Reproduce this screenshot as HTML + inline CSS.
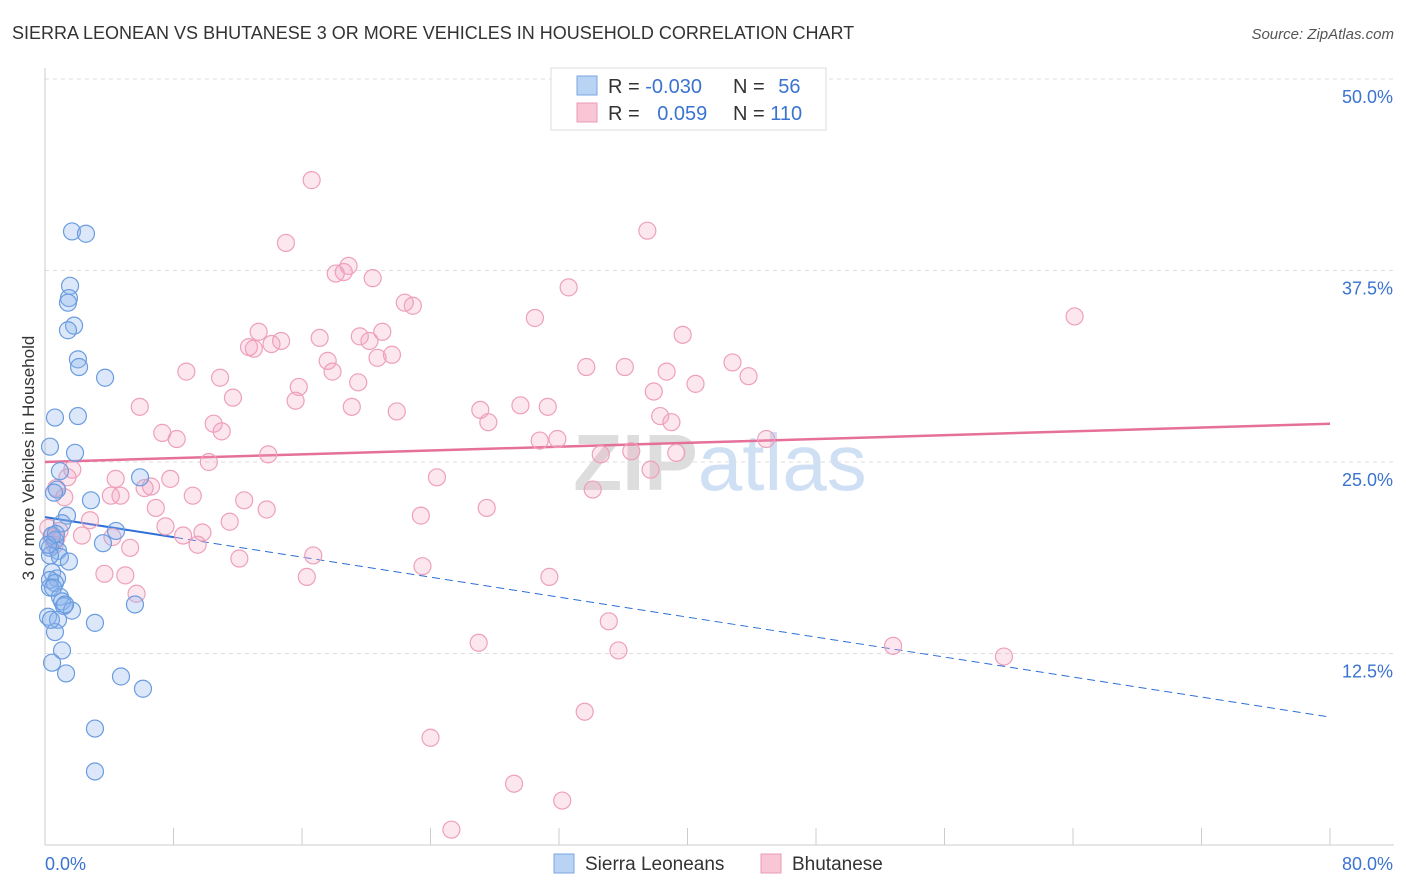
<!DOCTYPE html>
<html><head><meta charset="utf-8"><style>
body{margin:0;background:#fff;font-family:"Liberation Sans",sans-serif;}
svg{display:block}
</style></head><body>
<svg id="chart" width="1406" height="892">
<text x="12" y="39" font-size="18" fill="#333">SIERRA LEONEAN VS BHUTANESE 3 OR MORE VEHICLES IN HOUSEHOLD CORRELATION CHART</text>
<text x="1394" y="39" font-size="15" fill="#555" font-style="italic" text-anchor="end">Source: ZipAtlas.com</text>
<text x="34" y="458" font-size="17" fill="#333" text-anchor="middle" transform="rotate(-90 34 458)">3 or more Vehicles in Household</text>
<text x="720" y="490" font-size="80" fill="#ddd" text-anchor="middle" font-weight="bold">ZIP<tspan fill="#cfe0f5" font-weight="normal">atlas</tspan></text>
<g id="grid"></g><g id="axes"></g><g id="trend"></g><g id="pts"></g>
<g>
<rect x="551" y="68" width="275" height="62" fill="#fff" stroke="#ddd"/>
<rect x="577" y="76" width="20" height="19" fill="#b9d3f5" stroke="#7aa6e0"/>
<rect x="577" y="103" width="20" height="19" fill="#f9c6d6" stroke="#eb9ab5"/>
<text x="608" y="93" font-size="20" fill="#333">R = <tspan fill="#3a73d0">-0.030</tspan></text>
<text x="733" y="93" font-size="20" fill="#333">N = <tspan fill="#3a73d0" dx="8">56</tspan></text>
<text x="608" y="120" font-size="20" fill="#333">R = <tspan fill="#3a73d0" dx="12">0.059</tspan></text>
<text x="733" y="120" font-size="20" fill="#333">N = <tspan fill="#3a73d0">110</tspan></text>
</g>
<g>
<rect x="554" y="854" width="20" height="19" fill="#b9d3f5" stroke="#7aa6e0"/>
<text x="585" y="870" font-size="19" fill="#333">Sierra Leoneans</text>
<rect x="761" y="854" width="20" height="19" fill="#f9c6d6" stroke="#eb9ab5"/>
<text x="792" y="870" font-size="19" fill="#333">Bhutanese</text>
</g>
</svg>
<script>
const yTicks=[12.5,25,37.5,50];
const yTickLabels=["12.5%","25.0%","37.5%","50.0%"];
const xTickLabels=["0.0%","80.0%"];
const blueX=[1.68,2.55,1.56,1.49,1.43,1.81,1.43,2.05,2.12,3.74,0.62,2.05,0.31,1.87,0.93,0.75,0.56,2.86,1.37,1.06,4.42,0.44,0.62,3.61,0.31,0.81,0.93,1.49,0.44,0.75,0.31,0.62,0.31,0.93,1.06,1.18,1.68,5.60,0.19,0.81,3.11,0.62,1.06,0.44,1.31,4.73,6.10,3.11,3.11,5.92,0.31,0.19,0.50,0.68,1.25,0.37];
const blueY=[40.05,39.9,36.5,35.7,35.4,33.9,33.6,31.7,31.2,30.5,27.9,28.0,26.0,25.6,24.4,23.2,23.0,22.5,21.5,21.0,20.5,20.2,19.9,19.7,19.4,19.2,18.8,18.5,17.8,17.4,17.3,17.1,16.8,16.2,15.9,15.6,15.3,15.7,14.9,14.7,14.5,13.9,12.7,11.9,11.2,11.0,10.2,7.6,4.8,24.0,18.9,19.6,16.8,20.3,15.7,14.7];
const pinkX=[16.6,15.0,37.5,18.9,18.6,18.1,20.4,32.6,22.4,22.9,64.1,30.5,13.3,21.0,17.1,39.7,19.6,20.2,14.7,14.1,12.7,13.0,21.6,20.7,17.6,42.8,33.7,36.1,17.9,8.8,10.9,43.8,38.7,19.5,40.5,15.8,37.9,11.7,15.6,5.9,19.1,21.9,27.1,29.6,31.3,38.3,10.5,27.6,39.0,7.3,11.0,8.2,30.8,31.9,44.9,13.9,34.6,36.5,39.3,10.2,1.7,24.4,37.7,7.8,1.4,4.4,6.6,6.2,0.7,1.2,9.2,4.1,4.7,12.4,34.1,13.8,6.9,27.5,23.4,2.8,11.5,7.5,2.3,9.8,8.6,4.2,0.4,0.7,9.5,5.3,12.1,16.7,3.7,5.0,16.3,23.5,31.4,5.7,35.1,27.0,35.7,52.8,59.7,33.6,24.0,29.2,32.2,25.3,0.9,0.6,0.2];
const pinkY=[43.4,39.3,40.1,37.8,37.4,37.3,37.0,36.4,35.4,35.2,34.5,34.4,33.5,33.5,33.1,33.3,33.2,32.9,32.9,32.7,32.5,32.4,32.0,31.8,31.6,31.5,31.2,31.2,30.9,30.9,30.5,30.6,30.9,30.2,30.1,29.9,29.6,29.2,29.0,28.6,28.6,28.3,28.4,28.7,28.6,28.0,27.5,27.6,27.6,26.9,27.0,26.5,26.4,26.5,26.5,25.5,25.5,25.7,25.6,25.0,24.5,24.0,24.5,23.9,24.0,23.9,23.4,23.3,23.3,22.7,22.8,22.8,22.8,22.5,23.2,21.9,22.0,22.0,21.5,21.2,21.1,20.8,20.2,20.4,20.2,20.1,20.1,20.0,19.6,19.4,18.7,18.9,17.7,17.6,17.5,18.2,17.5,16.4,14.6,13.2,12.7,13.0,12.3,8.7,7.0,4.0,2.9,1.0,20.5,19.6,20.7];
const blueTrend=[21.4,8.35]; const blueSolidEnd=8.1;
const pinkTrend=[25.0,27.5];
const X=v=>45+v*(1285/80), Y=v=>845-v*(766/50);
const NS="http://www.w3.org/2000/svg";
function mk(t,a,p){const e=document.createElementNS(NS,t);for(const k in a)e.setAttribute(k,a[k]);document.getElementById(p).appendChild(e);return e;}
yTicks.forEach((t,i)=>{
 const l=mk('line',{x1:45,x2:1394,y1:Y(t),y2:Y(t),stroke:'#ddd','stroke-dasharray':'4 4'},'grid');
 
 
 const tx=mk('text',{x:1393,y:Y(t)+24,'font-size':18,fill:'#3a73d0','text-anchor':'end'},'axes');
 tx.textContent=yTickLabels[i];
 
 
});
mk('line',{x1:45,x2:45,y1:68,y2:845,stroke:'#ccc'},'axes');
mk('line',{x1:45,x2:1394,y1:845,y2:845,stroke:'#ccc'},'axes');
for(let i=0;i<=10;i++){mk('line',{x1:X(i*8),x2:X(i*8),y1:828,y2:845,stroke:'#ccc'},'axes');}
[[0,'start'],[80,'end']].forEach((p,i)=>{const t=mk('text',{x:i?1393:45,y:870,'font-size':18,fill:'#3a73d0','text-anchor':p[1]},'axes');t.textContent=xTickLabels[i];
 
 });
const by=v=>blueTrend[0]+(blueTrend[1]-blueTrend[0])*v/80;
let e=mk('line',{x1:X(0),y1:Y(by(0)),x2:X(blueSolidEnd),y2:Y(by(blueSolidEnd)),stroke:'#2f6fd6','stroke-width':2},'trend');

e=mk('line',{x1:X(blueSolidEnd),y1:Y(by(blueSolidEnd)),x2:X(80),y2:Y(by(80)),stroke:'#2f6fd6','stroke-width':1,'stroke-dasharray':'8 5'},'trend');

e=mk('line',{x1:X(0),y1:Y(pinkTrend[0]),x2:X(80),y2:Y(pinkTrend[1]),stroke:'#e5709a','stroke-width':2.5},'trend');

pinkX.forEach((x,i)=>{const c=mk('circle',{cx:X(x),cy:Y(pinkY[i]),r:8.5,fill:'rgba(245,160,190,0.25)',stroke:'#eea0bb','stroke-width':1.2},'pts');
 
 });
blueX.forEach((x,i)=>{const c=mk('circle',{cx:X(x),cy:Y(blueY[i]),r:8.5,fill:'rgba(140,180,235,0.3)',stroke:'#6a9ce0','stroke-width':1.2},'pts');
 
 });
</script>
</body></html>
